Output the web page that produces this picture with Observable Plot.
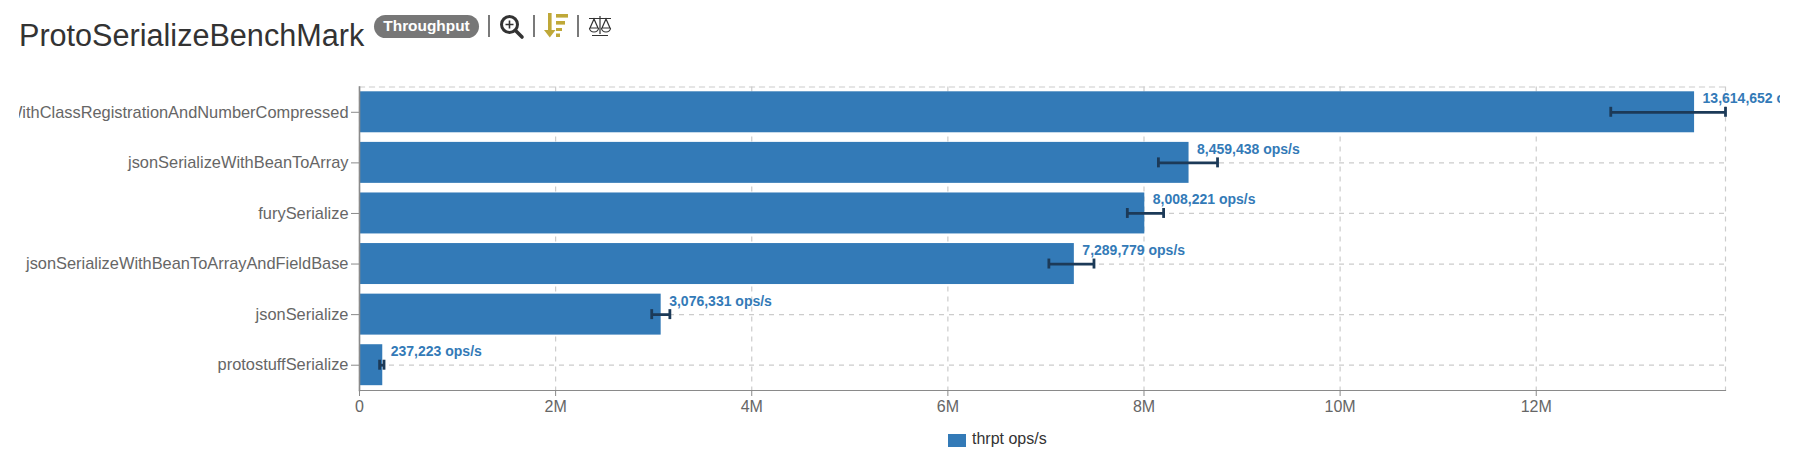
<!DOCTYPE html>
<html>
<head>
<meta charset="utf-8">
<script src="https://cdn.jsdelivr.net/npm/d3@7"></script>
<script src="https://cdn.jsdelivr.net/npm/@observablehq/plot@0.6"></script>
<style>
  html, body { margin: 0; padding: 0; background: #fff; overflow: hidden; }
  body { width: 1810px; height: 457px; position: relative; font-family: "Liberation Sans", Arial, sans-serif; }
  #title { position: absolute; left: 19px; top: 15px; font-size: 30.6px; line-height: 40px; color: #333; white-space: nowrap; }
  #badge { position: absolute; left: 374px; top: 15px; width: 105px; height: 23px; border-radius: 12px; background: #777; color: #fff; font-weight: bold; font-size: 15.4px; line-height: 22px; text-align: center; }
  #icons { position: absolute; left: 480px; top: 8px; }
  #chart { position: absolute; left: 19px; top: 0; width: 1761px; height: 457px; overflow: hidden; }
  #legend { position: absolute; left: 948px; top: 431px; height: 16px; display: flex; align-items: center; font-size: 16px; color: #333; }
  #legend i { display: block; width: 18px; height: 13px; background: #337ab7; margin-right: 6px; margin-top: 2px; }
</style>
</head>
<body>
<div id="title">ProtoSerializeBenchMark</div>
<div id="badge">Throughput</div>
<svg id="icons" width="140" height="36" viewBox="0 0 140 36">
  <g stroke="#333" stroke-width="1.3" fill="none">
    <path d="M9 7V29M54 7V29M98 7V29"/>
  </g>
  <g fill="none" stroke="#333">
    <circle cx="29.5" cy="16.5" r="8" stroke-width="3"/>
    <path d="M35.5 22.5L42 29" stroke-width="3.6" stroke-linecap="round"/>
    <path d="M25.5 16.5H33.5M29.5 12.5V20.5" stroke-width="1.6"/>
  </g>
  <g fill="#bfa838">
    <rect x="68" y="5" width="3.6" height="18"/>
    <path d="M64 22H75.5L69.8 29.5Z"/>
    <rect x="76" y="6" width="12" height="3.6"/>
    <rect x="76" y="13" width="9" height="3.6"/>
    <rect x="76" y="20" width="6" height="3"/>
    <rect x="76" y="25.5" width="4" height="3.5"/>
  </g>
  <g fill="none" stroke="#333" stroke-width="1.2">
    <path d="M120 8V26M112 27.5H128M109 10.5H131"/>
    <path d="M114 11L110 20H118ZM126 11L122 20H130Z"/>
    <path d="M109.5 20A4.5 4 0 0 0 118.5 20M121.5 20A4.5 4 0 0 0 130.5 20"/>
  </g>
</svg>
<div id="chart"></div>
<div id="legend"><i></i><span>thrpt ops/s</span></div>
<script>
const names = [
  "jsonSerializeWithClassRegistrationAndNumberCompressed",
  "jsonSerializeWithBeanToArray",
  "furySerialize",
  "jsonSerializeWithBeanToArrayAndFieldBase",
  "jsonSerialize",
  "protostuffSerialize"
];
const scores = [13614652, 8459438, 8008221, 7289779, 3076331, 237223];
const errLow = [12760000, 8147000, 7830000, 7030000, 2980000, 205000];
const errHigh = [13930000, 8750000, 8200000, 7490000, 3165000, 250000];
const xTicks = [0, 2e6, 4e6, 6e6, 8e6, 10e6, 12e6];
const xTickLabels = ["0", "2M", "4M", "6M", "8M", "10M", "12M"];
const unit = "ops/s";

const rows = names.map((name, i) => ({name, score: scores[i], low: errLow[i], high: errHigh[i]}));
const gridStyle = {stroke: "#ccc", strokeOpacity: 1, strokeWidth: 1.2, strokeDasharray: "5,5"};
const axisColor = "#8a8a8a";
const errColor = "#1c3a58";
const fmt = d3.format(",");

const chart = Plot.plot({
  width: 1761,
  height: 457,
  marginLeft: 340,
  marginRight: 55,
  marginTop: 86.5,
  marginBottom: 67,
  style: {fontFamily: "'Liberation Sans', Arial, sans-serif", fontSize: "16px", background: "transparent", overflow: "visible"},
  x: {domain: [0, 13930000]},
  y: {domain: names, paddingInner: 0.19, paddingOuter: 0.095, align: 0.5, round: false},
  marks: [
    Plot.gridX(xTicks.concat([13930000]), {...gridStyle}),
    Plot.gridY(names, {...gridStyle}),
    Plot.frame({anchor: "top", ...gridStyle}),
    Plot.barX(rows, {x: "score", y: "name", fill: "#337ab7"}),
    Plot.frame({anchor: "bottom", stroke: axisColor, strokeWidth: 1.2}),
    Plot.frame({anchor: "left", stroke: axisColor, strokeWidth: 1.6}),
    Plot.ruleY(rows, {y: "name", x1: "low", x2: "high", stroke: errColor, strokeWidth: 2.8}),
    Plot.tickX(rows, {x: "low", y: "name", stroke: errColor, strokeWidth: 2.8, insetTop: 15.5, insetBottom: 15.5}),
    Plot.tickX(rows, {x: "high", y: "name", stroke: errColor, strokeWidth: 2.8, insetTop: 15.5, insetBottom: 15.5}),
    Plot.text(rows, {
      x: "score", y: "name",
      text: d => `${fmt(d.score)} ${unit}`,
      textAnchor: "start", dx: 8, dy: -13.5,
      fill: "#337ab7", fontWeight: "bold", fontSize: 14
    }),
    Plot.axisX({
      ticks: xTicks, tickFormat: d => xTickLabels[xTicks.indexOf(d)],
      label: null, tickSize: 6, tickPadding: 4, stroke: axisColor, fill: "#666", fontSize: 16
    }),
    Plot.axisY({
      label: null, tickSize: 8, tickPadding: 3, stroke: axisColor, fill: "#666", fontSize: 16.4,
      textOverflow: null, lineWidth: Infinity
    })
  ]
});
document.getElementById("chart").appendChild(chart);
</script>
</body>
</html>
